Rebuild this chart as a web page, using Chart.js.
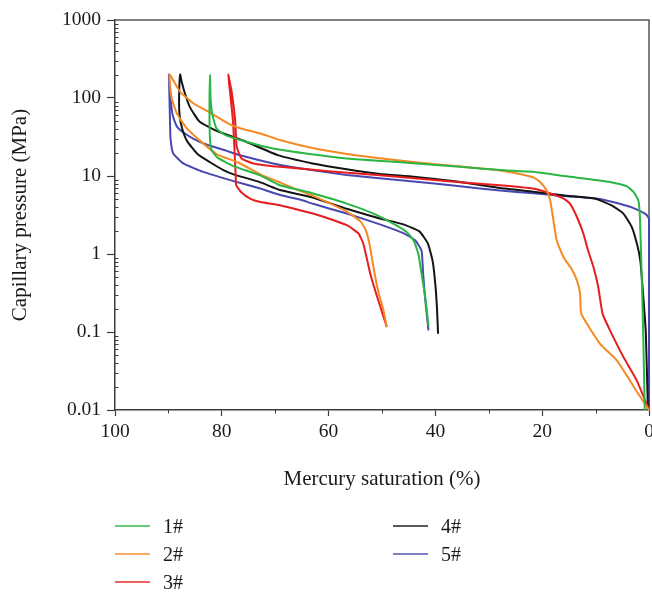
<!DOCTYPE html>
<html><head><meta charset="utf-8">
<script src="https://cdn.jsdelivr.net/npm/chart.js@4.4.1/dist/chart.umd.min.js"></script>
<style>
html,body{margin:0;padding:0;background:#fff;}
#wrap{position:relative;width:652px;height:592px;overflow:hidden;}
#legend{position:absolute;left:0;top:0;width:652px;height:592px;pointer-events:none;font-family:"Liberation Serif",serif;font-size:20px;color:#1a1a1a;}
.item{position:absolute;display:flex;align-items:center;height:28px;line-height:28px;white-space:nowrap;}
.swatch{display:inline-block;width:35px;height:2px;margin-right:13px;opacity:0.7;}
</style></head><body>
<div id="wrap"><canvas id="c" width="652" height="592"></canvas><div id="legend"></div></div>
<script>
// ---- data ----
const seriesNames = ["1#", "2#", "3#", "4#", "5#"];
const xTickValues = [0, 20, 40, 60, 80, 100];
const xMinorTicks = [10, 30, 50, 70, 90];
const yTickValues = [0.01, 0.1, 1, 10, 100, 1000];

// 1# : injection then withdrawal (mercury saturation %, capillary pressure MPa)
const sat1 = [0.8, 1.0, 1.2, 1.4, 1.7, 2.0, 2.9, 4.2, 7.3, 15.4, 21.7, 27.9, 35.4, 44.1, 50.0, 56.6, 63.2, 70.4, 76.4, 79.5, 81.0, 81.8, 82.1, 82.2,
              82.3, 82.3, 82.2, 81.9, 80.8, 77.8, 72.8, 69.1, 65.4, 62.9, 56.6, 51.6, 47.9, 45.4, 44.1, 43.2, 42.6, 41.9, 41.3];
const pc1  = [0.01, 0.05, 0.2, 0.62, 2.98, 4.9, 6.25, 7.4, 8.4, 9.9, 11.3, 11.9, 13.1, 14.6, 15.6, 16.8, 19.0, 22.5, 28.8, 34, 40.6, 63, 100, 200,
              100, 50, 28.8, 21.4, 17.2, 13.4, 10.2, 7.6, 6.6, 5.96, 4.43, 3.3, 2.45, 1.92, 1.5, 1.01, 0.56, 0.28, 0.12];

// 2#
const sat2 = [0, 0.4, 2.0, 3.6, 6.0, 9.2, 12.6, 12.8, 12.9, 13.5, 14.6, 16.0, 17.3, 17.9, 18.5, 19.2, 20.4, 21.7, 24.2, 27.9, 36.8, 44.1, 50.0, 56.6, 63.2, 69.1, 72.8, 76.4, 78.5, 82.2, 85.3, 87.8, 89.8,
              89.4, 88.4, 86.7, 84.0, 80.9, 77.0, 72.8, 69.5, 66.6, 63.0, 56.6, 54.0, 53.0, 52.3, 51.5, 50.6, 49.8, 49.1];
const pc2  = [0.01, 0.011, 0.016, 0.024, 0.043, 0.071, 0.165, 0.2, 0.31, 0.46, 0.66, 0.91, 1.5, 2.7, 4.9, 6.6, 8.4, 9.6, 10.6, 11.8, 13.5, 15.1, 16.8, 19.2, 23, 29, 35, 40.6, 46, 65, 85, 120, 200,
              100, 63, 42, 28, 19, 15, 10.5, 8.5, 7.0, 5.6, 3.5, 2.6, 2.0, 1.3, 0.62, 0.31, 0.2, 0.115];

// 3#
const sat3 = [0, 0.24, 2.3, 4.8, 7.3, 8.7, 9.5, 10.4, 11.4, 12.3, 13.5, 14.8, 16.0, 18.5, 21.7, 27.9, 35.4, 50.4, 60.0, 69.1, 74.1, 76.3, 77.2, 77.5, 78.1, 78.8,
              78.4, 77.9, 77.6, 77.4, 77.3, 76.4, 74.7, 72.8, 69.1, 65.4, 62.9, 56.6, 54.4, 53.5, 52.2, 50.7, 49.1];
const pc3  = [0.01, 0.011, 0.024, 0.048, 0.105, 0.172, 0.377, 0.68, 1.11, 1.83, 2.98, 4.43, 5.14, 5.96, 6.9, 7.62, 8.3, 10.2, 11.5, 13.1, 14.5, 16.8, 23.6, 52, 114, 200,
              110, 50, 20, 10, 7.6, 6.25, 5.14, 4.65, 4.22, 3.64, 3.30, 2.34, 1.83, 1.36, 0.56, 0.255, 0.116];

// 4#
const sat4 = [0.2, 0.6, 1.1, 1.6, 2.2, 3.2, 4.8, 7.0, 10.0, 15.4, 21.7, 27.9, 36.0, 44.1, 50.4, 56.6, 63.0, 69.5, 76.0, 81.0, 84.2, 86.0, 86.9, 87.5, 87.8,
              88.0, 87.9, 87.4, 86.5, 84.5, 82.2, 79.7, 77.8, 73.0, 69.1, 63.0, 56.6, 50.4, 46.0, 43.0, 41.4, 40.5, 40.0, 39.7, 39.5];
const pc4  = [0.01, 0.1, 0.3, 0.8, 1.3, 2.2, 3.3, 4.2, 5.1, 5.6, 6.3, 7.0, 8.5, 9.8, 10.6, 12.2, 14.5, 18.5, 28.5, 38, 50, 77, 114, 160, 200,
              100, 60, 40, 28, 19, 15, 11.9, 10.5, 8.4, 6.6, 5.3, 3.8, 2.85, 2.4, 1.95, 1.36, 0.8, 0.4, 0.2, 0.095];

// 5#
const sat5 = [0, 0, 0.5, 3.0, 6.0, 9.5, 15.4, 21.7, 27.9, 35.4, 44.1, 50.0, 56.6, 63.2, 69.5, 76.0, 79.1, 83.0, 85.3, 86.9, 88.4, 89.2, 89.6, 89.9,
              89.8, 89.7, 89.6, 89.1, 87.2, 83.5, 77.8, 72.8, 69.1, 65.4, 62.9, 56.6, 50.4, 46.0, 43.8, 42.6, 42.3, 41.9, 41.3];
const pc5  = [0.01, 2.8, 3.2, 3.9, 4.5, 5.1, 5.5, 6.0, 6.5, 7.4, 8.5, 9.3, 10.3, 11.9, 14, 18, 21, 25.5, 30, 35, 43, 60, 100, 200,
              100, 50, 30, 19.4, 14.5, 11.3, 8.6, 6.9, 5.7, 5.0, 4.4, 3.3, 2.4, 1.85, 1.5, 1.11, 0.56, 0.26, 0.105];

const seriesColors = ["#2bb544", "#f58a22", "#e61e1e", "#141414", "#4848b0"];
const satSeries = [sat1, sat2, sat3, sat4, sat5];
const pcSeries = [pc1, pc2, pc3, pc4, pc5];

const datasets = seriesNames.map((name, i) => ({
  label: name,
  data: satSeries[i].map((s, k) => ({x: s, y: pcSeries[i][k]})),
  borderColor: seriesColors[i],
  backgroundColor: seriesColors[i],
  borderWidth: 2,
  pointRadius: 0,
  showLine: true,
  fill: false,
  tension: 0.15,
  clip: 4
}));

const FONT = '"Liberation Serif", "Times New Roman", serif';
const AXIS = '#3c3c3c';

const extras = {
  id: 'extras',
  beforeDatasetsDraw(chart) {
    const {ctx, chartArea: a} = chart;
    ctx.save();
    ctx.strokeStyle = '#555';
    ctx.lineWidth = 1.5;
    ctx.beginPath();
    ctx.moveTo(a.left, a.top);
    ctx.lineTo(a.right, a.top);
    ctx.lineTo(a.right, a.bottom);
    ctx.stroke();
    ctx.restore();
  },
  afterDraw(chart) {
    const {ctx, chartArea: a, scales: {x, y}} = chart;
    ctx.save();
    ctx.strokeStyle = AXIS;
    ctx.lineWidth = 1;
    ctx.beginPath();
    for (let d = 0; d < yTickValues.length - 1; d++) {
      for (let m = 2; m <= 9; m++) {
        const py = Math.round(y.getPixelForValue(yTickValues[d] * m)) + 0.5;
        ctx.moveTo(a.left, py); ctx.lineTo(a.left + 3.5, py);
      }
    }
    for (const v of xMinorTicks) {
      const px = Math.round(x.getPixelForValue(v)) + 0.5;
      ctx.moveTo(px, a.bottom); ctx.lineTo(px, a.bottom + 3.5);
    }
    ctx.stroke();
    ctx.restore();
  }
};

const chart = new Chart(document.getElementById('c'), {
  type: 'scatter',
  data: {datasets},
  options: {
    responsive: false,
    animation: false,
    devicePixelRatio: 1,
    layout: {padding: {left: 0, top: 20, right: 3, bottom: 100}},
    plugins: {legend: {display: false}, tooltip: {enabled: false}},
    scales: {
      x: {
        type: 'linear', reverse: true, min: 0, max: 100,
        afterBuildTicks: s => { s.ticks = xTickValues.map(v => ({value: v})); },
        afterFit: s => { s.height = 82; s.paddingRight = 0; s.paddingLeft = 0; },
        ticks: {autoSkip: false, maxRotation: 0, padding: 4, color: '#1a1a1a', font: {family: FONT, size: 19.5},
                callback: v => String(v)},
        grid: {drawOnChartArea: false, drawTicks: true, tickLength: 6, tickColor: AXIS, tickWidth: 1.2},
        border: {display: true, color: AXIS, width: 1.5},
        title: {display: true, text: 'Mercury saturation (%)', color: '#1a1a1a', padding: {top: 0, bottom: 0},
                font: {family: FONT, size: 21, lineHeight: 1.2}}
      },
      y: {
        type: 'logarithmic', min: 0.01, max: 1000,
        afterBuildTicks: s => { s.ticks = yTickValues.map(v => ({value: v})); },
        afterFit: s => { s.width = 115; s.paddingTop = 0; s.paddingBottom = 0; },
        ticks: {autoSkip: false, padding: 6, color: '#1a1a1a', font: {family: FONT, size: 19.5},
                callback: v => String(v)},
        grid: {drawOnChartArea: false, drawTicks: true, tickLength: 8, tickColor: AXIS, tickWidth: 1.2},
        border: {display: true, color: AXIS, width: 1.5},
        title: {display: true, text: 'Capillary pressure (MPa)', color: '#1a1a1a', padding: {top: 8, bottom: 0},
                font: {family: FONT, size: 21, lineHeight: 1.2}}
      }
    }
  },
  plugins: [extras]
});

// ---- HTML legend built from the chart's datasets ----
(function buildLegend() {
  const box = document.getElementById('legend');
  const a = chart.chartArea;
  chart.data.datasets.forEach((ds, i) => {
    const col = i < 3 ? 0 : 1;
    const row = i < 3 ? i : i - 3;
    const item = document.createElement('div');
    item.className = 'item';
    item.style.left = (a.left + col * 278) + 'px';
    item.style.top = (512 + row * 28) + 'px';
    const sw = document.createElement('span');
    sw.className = 'swatch';
    sw.style.background = ds.borderColor;
    const tx = document.createElement('span');
    tx.textContent = ds.label;
    item.appendChild(sw); item.appendChild(tx);
    box.appendChild(item);
  });
})();
</script></body></html>
